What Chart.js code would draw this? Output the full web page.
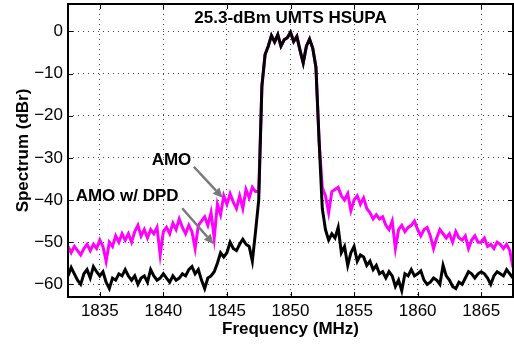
<!DOCTYPE html>
<html>
<head>
<meta charset="utf-8">
<script src="https://cdn.jsdelivr.net/npm/chart.js@4/dist/chart.umd.min.js"></script>
<style>
html,body{margin:0;padding:0;background:#fff}
</style>
</head>
<body>
<canvas id="c" width="514" height="347"></canvas>
<script>
// sampling grid: 1832.5 .. 1867.5 MHz, 0.25 MHz step
const freqStart = 1832.5, freqStep = 0.25, nPts = 141;
const freqs = Array.from({length:nPts},(_,i)=>freqStart+i*freqStep);

// AMO (magenta), dBr
const amo = [
  -51,-52.5,-51,-52,-53,-51.5,-50.5,-52,-50.5,-51.5,
  -49.5,-51,-54.5,-50,-51,-48.5,-50,-48,-49.5,-48,
  -50,-47.5,-46,-48.5,-47,-49,-47,-48,-46.5,-53,
  -47.5,-46.5,-48,-45.5,-47,-44.5,-46.5,-48,-46,-47.5,
  -51.5,-46,-45,-44,-46,-43,-49,-41,-43.5,-39,
  -41,-38.5,-40.5,-42,-39,-42,-37.5,-39.5,-37,-38,
  -38,-13,-5.5,-3.5,-1,-2.5,-0.8,-3.5,-2,-1.5,
  -0.2,-2.4,-1.2,-4.5,-7.5,-3.5,-1.8,-4,-8.5,-26,
  -37,-39,-43,-38,-37.5,-37,-39,-40,-38.5,-42.5,
  -40,-39,-41,-39.5,-42,-43,-44.5,-43.5,-44.5,-44,
  -46,-47,-45,-51.5,-47,-46,-47.5,-46.5,-46,-45,
  -47,-48.5,-47,-46.5,-48.5,-51.5,-49,-47,-48,-49,
  -48,-50,-47.5,-49,-49.5,-48.5,-51.5,-49.5,-48.5,-50,
  -50,-49,-51,-50.5,-51.5,-50,-50.5,-51.5,-50.5,-52,-56
];

// AMO w/ DPD (black), dBr
const dpd = [
  -58,-56,-57.5,-59,-60,-57.5,-56.5,-58.5,-55.8,-57,
  -58,-57,-59.5,-61,-58.5,-59,-57.5,-58,-56.5,-58,
  -59,-58,-60,-58.5,-58,-59.5,-56.5,-58,-59,-58.5,
  -57.5,-58.5,-59.5,-58,-59,-58.5,-57.5,-58,-56.5,-55.8,
  -57.5,-56.5,-59,-61,-58.5,-58,-57,-55,-52.5,-53.5,
  -52.5,-50,-51.5,-52,-50.5,-49.3,-50.5,-51,-54.5,-47.5,
  -40,-13,-5.5,-3.5,-1,-2.5,-0.8,-3.5,-2,-1.5,
  -0.2,-2.4,-1.2,-4.5,-7.5,-3.5,-1.8,-4,-8.5,-26,
  -42,-47,-49.5,-48,-49,-46.5,-52.5,-51,-55.5,-52.5,
  -51,-54.5,-53,-53.5,-55.5,-54.5,-56.5,-55.5,-57.5,-57,
  -58.5,-57,-58,-60.5,-59,-61.5,-57.5,-58,-56.5,-58,
  -57.5,-56.8,-59,-60,-59.5,-58.5,-59,-60,-55.5,-58,
  -59,-60.5,-61,-59.5,-60,-58.5,-57,-57.5,-58.5,-57.5,
  -57,-57.5,-58.5,-60,-58,-57,-57.5,-58,-56.5,-57.5,-58.5
];

const xTicks = [1835,1840,1845,1850,1855,1860,1865];
const yTicks = [-60,-50,-40,-30,-20,-10,0];

const titleText = '25.3-dBm UMTS HSUPA';
// annotation labels and arrows, in data units
const notes = [
  {text:'AMO', tx:1840.64, ty:-31.8, from:[1842.40,-32.1], to:[1844.68,-39.5]},
  {text:'AMO w/ DPD', tx:1837.15, ty:-40.3, from:[1841.48,-41.95], to:[1843.97,-50.5]}
];

const FONT = '"Liberation Sans", Arial, Helvetica, sans-serif';

const decor = {
  id:'decor',
  afterDatasetsDraw(chart){
    const {ctx, chartArea:a, scales:{x,y}} = chart;
    ctx.save();
    // box
    ctx.strokeStyle='#000'; ctx.lineWidth=2;
    ctx.strokeRect(a.left, a.top, a.right-a.left, a.bottom-a.top);
    // inward tick marks
    ctx.lineWidth=1;
    ctx.beginPath();
    xTicks.forEach(v=>{
      const p=Math.round(x.getPixelForValue(v))+0.5;
      ctx.moveTo(p,a.bottom); ctx.lineTo(p,a.bottom-5);
      ctx.moveTo(p,a.top); ctx.lineTo(p,a.top+5);
    });
    yTicks.forEach(v=>{
      const p=Math.round(y.getPixelForValue(v))+0.5;
      ctx.moveTo(a.left,p); ctx.lineTo(a.left+5,p);
      ctx.moveTo(a.right,p); ctx.lineTo(a.right-5,p);
    });
    ctx.stroke();
    // title inside plot
    ctx.fillStyle='#000';
    ctx.font='bold 17px '+FONT;
    ctx.textAlign='center'; ctx.textBaseline='alphabetic';
    ctx.fillText(titleText,(a.left+a.right)/2,a.top+19);
    // annotations
    notes.forEach(n=>{
      ctx.fillStyle='#000';
      ctx.fillText(n.text,x.getPixelForValue(n.tx),y.getPixelForValue(n.ty));
      const x0=x.getPixelForValue(n.from[0]), y0=y.getPixelForValue(n.from[1]);
      const x1=x.getPixelForValue(n.to[0]), y1=y.getPixelForValue(n.to[1]);
      const ang=Math.atan2(y1-y0,x1-x0), hl=10, hw=4.5;
      const bx=x1-hl*Math.cos(ang), by=y1-hl*Math.sin(ang);
      ctx.strokeStyle='#7a7a7a'; ctx.fillStyle='#7a7a7a'; ctx.lineWidth=2.5;
      ctx.beginPath(); ctx.moveTo(x0,y0); ctx.lineTo(bx,by); ctx.stroke();
      ctx.beginPath();
      ctx.moveTo(x1,y1);
      ctx.lineTo(bx+hw*Math.sin(ang),by-hw*Math.cos(ang));
      ctx.lineTo(bx-hw*Math.sin(ang),by+hw*Math.cos(ang));
      ctx.closePath(); ctx.fill();
    });
    ctx.restore();
  }
};

const minus = v => v<0 ? '\u2212'+Math.abs(v) : String(v);

new Chart(document.getElementById('c').getContext('2d'),{
  type:'line',
  data:{
    datasets:[
      {label:'AMO', data:freqs.map((f,i)=>({x:f,y:amo[i]})), borderColor:'#ff00ff', borderWidth:3, pointRadius:0, order:2},
      {label:'AMO w/ DPD', data:freqs.map((f,i)=>({x:f,y:dpd[i]})), borderColor:'#000000', borderWidth:3, pointRadius:0, order:1}
    ]
  },
  options:{
    responsive:false,
    animation:false,
    devicePixelRatio:1,
    layout:{padding:{top:4,right:1,left:0,bottom:0}},
    plugins:{legend:{display:false},tooltip:{enabled:false}},
    scales:{
      x:{
        type:'linear', min:1832.5, max:1867.5,
        afterBuildTicks:s=>{s.ticks=xTicks.map(v=>({value:v}));},
        afterFit:s=>{s.height=50;s.paddingLeft=0;s.paddingRight=0;},
        grid:{color:'#444',lineWidth:1,drawTicks:false},
        border:{display:false,dash:[1,4]},
        ticks:{color:'#000',font:{family:FONT,size:17},padding:4,maxRotation:0,callback:v=>String(v)},
        title:{display:true,text:'Frequency (MHz)',color:'#000',font:{family:FONT,size:17,weight:'bold'},padding:{top:0,bottom:7}}
      },
      y:{
        type:'linear', min:-63, max:6.5,
        afterBuildTicks:s=>{s.ticks=yTicks.map(v=>({value:v}));},
        afterFit:s=>{s.width=68;s.paddingTop=0;s.paddingBottom=0;},
        grid:{color:'#444',lineWidth:1,drawTicks:false},
        border:{display:false,dash:[1,4]},
        ticks:{color:'#000',font:{family:FONT,size:17},padding:5,callback:v=>minus(v)},
        title:{display:true,text:'Spectrum (dBr)',color:'#000',font:{family:FONT,size:17,weight:'bold'},padding:{top:13,bottom:0}}
      }
    }
  },
  plugins:[decor]
});
</script>
</body>
</html>
